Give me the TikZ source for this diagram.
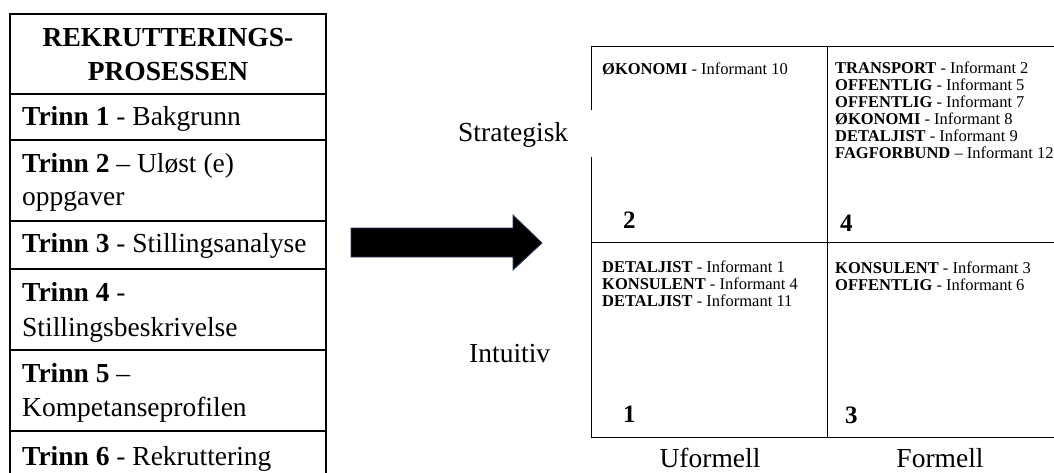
\documentclass[tikz,border=0pt]{standalone}
\usepackage{fontspec}
\setmainfont{Liberation Serif}
\definecolor{arrowedge}{HTML}{2E3B63}
\begin{document}
\begin{tikzpicture}[x=1pt,y=-1pt,
  rule/.style={line width=1.4pt,black},
  gridline/.style={line width=1pt,black},
  bigtext/.style={font=\fontsize{27.5}{33}\selectfont, inner sep=0pt},
  steptxt/.style={bigtext, anchor=base west},
  small/.style={font=\fontsize{16.5}{18}\selectfont, inner sep=0pt, anchor=base west},
  quadnum/.style={font=\fontsize{25}{30}\selectfont\bfseries, inner sep=0pt, anchor=base west}]
\useasboundingbox (0,0) rectangle (1054,473);

% process table
\draw[rule] (10,476) -- (10,14) -- (326,14) -- (326,476);
\foreach \y in {94,140,221,269,350,431} \draw[rule] (10,\y) -- (326,\y);

\node[bigtext,anchor=base] (head1) at (168,46.7) {\bfseries REKRUTTERINGS-};
\node[bigtext,anchor=base] (head2) at (168,81) {\bfseries PROSESSEN};
\node[steptxt] (s1)  at (22,126)   {\textbf{Trinn 1} - Bakgrunn};
\node[steptxt] (s2a) at (22,173)   {\textbf{Trinn 2} – Uløst (e)};
\node[steptxt] (s2b) at (22,205.5) {oppgaver};
\node[steptxt] (s3)  at (22,252.5) {\textbf{Trinn 3} - Stillingsanalyse};
\node[steptxt] (s4a) at (22,301.5) {\textbf{Trinn 4} -};
\node[steptxt] (s4b) at (22,336)   {Stillingsbeskrivelse};
\node[steptxt] (s5a) at (22,382.7) {\textbf{Trinn 5} –};
\node[steptxt] (s5b) at (22,416.7) {Kompetanseprofilen};
\node[steptxt] (s6)  at (22,465)   {\textbf{Trinn 6} - Rekruttering};

% block arrow
\filldraw[fill=black, draw=arrowedge, line width=0.8pt]
  (351,228) -- (513,228) -- (513,215) -- (542,243) -- (513,270) -- (513,257) -- (351,257) -- cycle;

% 2x2 matrix
\draw[gridline] (591,47) -- (1058,47);
\draw[gridline] (591,242) -- (1058,242);
\draw[gridline] (591,437) -- (1058,437);
\draw[gridline] (827,47) -- (827,437);
\draw[gridline] (591,47) -- (591,110);
\draw[gridline] (591,157) -- (591,437);

% axis labels
\node[bigtext,anchor=base west] (strat) at (458,142) {Strategisk};
\node[bigtext,anchor=base west] (intu)  at (469,362) {Intuitiv};
\node[bigtext,anchor=base] (uform) at (710,467.5) {Uformell};
\node[bigtext,anchor=base] (form)  at (940,467.5) {Formell};

% quadrant 2
\node[small] (q2a) at (602,75) {\textbf{ØKONOMI} - Informant 10};
\node[quadnum] (n2) at (623,228) {2};
% quadrant 4
\node[small] (q4a) at (835,74)    {\textbf{TRANSPORT} - Informant 2};
\node[small] (q4b) at (835,91)    {\textbf{OFFENTLIG} - Informant 5};
\node[small] (q4c) at (835,108)   {\textbf{OFFENTLIG} - Informant 7};
\node[small] (q4d) at (835,125)   {\textbf{ØKONOMI} - Informant 8};
\node[small] (q4e) at (835,142)   {\textbf{DETALJIST} - Informant 9};
\node[small] (q4f) at (835,159)   {\textbf{FAGFORBUND} – Informant 12};
\node[quadnum] (n4) at (840,231) {4};
% quadrant 1
\node[small] (q1a) at (602,272)   {\textbf{DETALJIST} - Informant 1};
\node[small] (q1b) at (602,289)   {\textbf{KONSULENT} - Informant 4};
\node[small] (q1c) at (602,306)   {\textbf{DETALJIST} - Informant 11};
\node[quadnum] (n1) at (623,422) {1};
% quadrant 3
\node[small] (q3a) at (835,273)   {\textbf{KONSULENT} - Informant 3};
\node[small] (q3b) at (835,290)   {\textbf{OFFENTLIG} - Informant 6};
\node[quadnum] (n3) at (845,423) {3};
\end{tikzpicture}
\end{document}
